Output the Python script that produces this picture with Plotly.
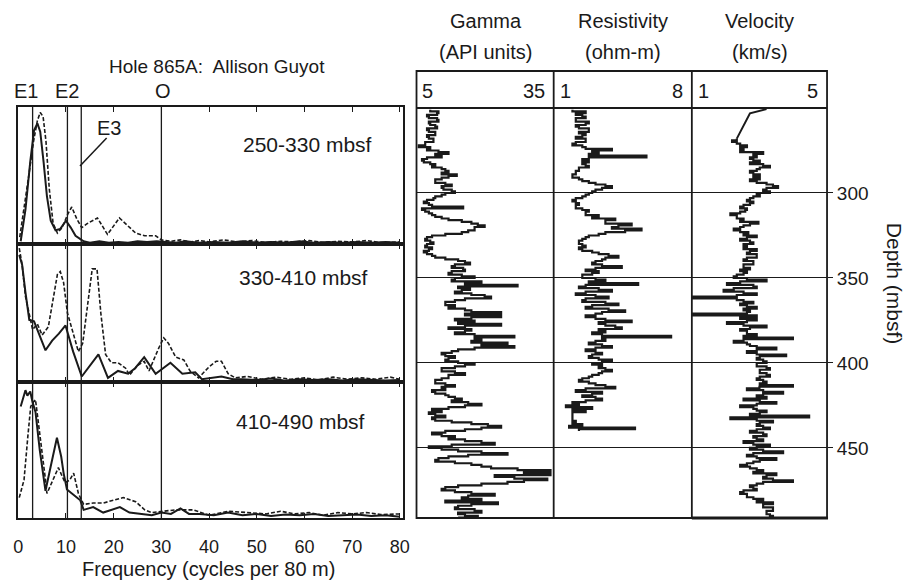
import plotly.graph_objects as go

W, H = 912, 582
def PX(px): return px / W
def PY(py): return 1 - py / H

# ---------------- Spectral panels (frequency, relative power) ----------------
freq_labels = ["250-330 mbsf", "330-410 mbsf", "410-490 mbsf"]
ref_lines = [3.0, 10.3, 13.2, 30.0]  # E1, E2, E3, O
freq_ticks = [0, 10, 20, 30, 40, 50, 60, 70, 80]

p1_solid_f = [0.5, 1.5, 2.5, 3.3, 4.0, 4.6, 5.3, 6.0, 6.8, 7.8, 8.8, 10.0, 11.0, 12.0, 13.7, 15, 17, 19, 21, 23, 25, 27, 29, 31, 33, 35, 38, 41, 44, 47, 50, 53, 56, 59, 62, 65, 68, 71, 74, 77, 80]
p1_solid_v = [0.02, 0.25, 0.6, 0.83, 0.88, 0.82, 0.6, 0.35, 0.17, 0.1, 0.11, 0.17, 0.12, 0.06, 0.02, 0.01, 0.02, 0.01, 0.015, 0.01, 0.02, 0.015, 0.02, 0.015, 0.01, 0.02, 0.01, 0.015, 0.01, 0.02, 0.01, 0.015, 0.01, 0.02, 0.01, 0.015, 0.01, 0.015, 0.01, 0.015, 0.01]
p1_dash_f = [0.3, 1.2, 2.2, 3.2, 4.0, 4.6, 5.2, 5.8, 6.5, 7.3, 8.2, 9.2, 10.4, 11.2, 12.3, 13.3, 14.5, 16.6, 18.7, 21.2, 23, 24.6, 26.5, 28.8, 30, 32, 34, 36, 38, 40, 43, 46, 49, 52, 55, 58, 61, 64, 67, 70, 73, 76, 80]
p1_dash_v = [0.05, 0.25, 0.5, 0.75, 0.9, 0.96, 0.93, 0.75, 0.4, 0.15, 0.08, 0.12, 0.22, 0.27, 0.18, 0.12, 0.15, 0.19, 0.07, 0.19, 0.13, 0.08, 0.06, 0.06, 0.03, 0.02, 0.03, 0.015, 0.025, 0.015, 0.03, 0.015, 0.025, 0.01, 0.02, 0.015, 0.025, 0.01, 0.02, 0.015, 0.025, 0.01, 0.015]

p2_solid_f = [0.2, 0.8, 1.5, 2.3, 3.3, 4.5, 5.7, 7.1, 8.5, 9.9, 11.5, 13.3, 15.0, 16.8, 18.8, 20.9, 23, 24.5, 26.4, 28.8, 31.9, 34.4, 37.1, 38.5, 42.6, 45, 47, 50, 53, 56, 59, 62, 65, 68, 71, 74, 77, 80]
p2_solid_v = [0.92, 0.85, 0.65, 0.45, 0.44, 0.33, 0.23, 0.3, 0.35, 0.41, 0.22, 0.04, 0.12, 0.2, 0.03, 0.08, 0.06, 0.1, 0.18, 0.06, 0.14, 0.06, 0.07, 0.02, 0.04, 0.02, 0.02, 0.015, 0.025, 0.01, 0.02, 0.015, 0.02, 0.01, 0.02, 0.015, 0.01, 0.015]
p2_dash_f = [0.2, 0.8, 1.5, 2.3, 3.0, 4.0, 5.0, 6.3, 7.3, 8.2, 8.8, 9.5, 10.3, 11.5, 12.6, 13.5, 14.6, 15.5, 16.5, 17.3, 18.3, 19.5, 20.9, 22.5, 23.3, 25, 26.4, 27.4, 29.5, 30.5, 31.5, 33, 34.7, 36, 37.8, 40, 41.5, 42.6, 44.0, 45.5, 48, 51, 54, 57, 60, 63, 66, 69, 72, 75, 78, 80]
p2_dash_v = [0.97, 0.85, 0.62, 0.48, 0.38, 0.42, 0.34, 0.4, 0.6, 0.78, 0.8, 0.72, 0.5, 0.35, 0.22, 0.28, 0.6, 0.82, 0.82, 0.5, 0.2, 0.14, 0.14, 0.1, 0.05, 0.12, 0.15, 0.08, 0.25, 0.32, 0.28, 0.18, 0.16, 0.08, 0.03, 0.11, 0.15, 0.15, 0.06, 0.03, 0.04, 0.02, 0.035, 0.02, 0.03, 0.015, 0.035, 0.02, 0.03, 0.02, 0.035, 0.02]

p3_solid_f = [0.5, 1.5, 1.9, 2.5, 3.0, 3.6, 4.5, 5.7, 6.8, 8.1, 9.0, 9.5, 10.2, 11.5, 13.0, 13.7, 15.7, 17.8, 19.5, 21.3, 23.3, 26, 28, 30, 32, 34, 35.8, 38, 41, 44, 47, 50, 53, 56, 59, 62, 65, 68, 71, 74, 77, 80]
p3_solid_v = [0.82, 0.94, 0.9, 0.93, 0.85, 0.78, 0.5, 0.2, 0.38, 0.59, 0.45, 0.33, 0.21, 0.17, 0.13, 0.06, 0.08, 0.04, 0.06, 0.08, 0.04, 0.03, 0.02, 0.04, 0.03, 0.07, 0.03, 0.03, 0.02, 0.04, 0.02, 0.03, 0.015, 0.025, 0.02, 0.03, 0.015, 0.02, 0.025, 0.015, 0.02, 0.01]
p3_dash_f = [0.2, 1.2, 2.0, 2.6, 3.1, 3.6, 4.0, 5.0, 5.7, 6.0, 7.2, 8.4, 9.8, 10.8, 11.6, 12.6, 13.7, 15.7, 17.8, 20, 22, 24.6, 26.5, 28, 30, 33, 36.7, 40, 44, 49.5, 52, 55, 58, 61, 64, 67, 70, 73, 76, 80]
p3_dash_v = [0.15, 0.28, 0.6, 0.82, 0.85, 0.87, 0.76, 0.5, 0.28, 0.18, 0.28, 0.37, 0.26, 0.28, 0.33, 0.18, 0.1, 0.11, 0.11, 0.13, 0.15, 0.12, 0.06, 0.04, 0.05, 0.06, 0.06, 0.02, 0.05, 0.04, 0.03, 0.05, 0.03, 0.04, 0.02, 0.04, 0.03, 0.04, 0.025, 0.03]

# ---------------- Downhole logs (1 m sampling, depth in mbsf) ----------------
gamma_depth = list(range(251, 492))
gamma_api = [
    8.0, 9.8, 9.5, 7.3, 7.7, 9.5, 9.8, 7.7, 8.0, 9.1,        # 251-260
    9.5, 7.3, 7.7, 9.1, 9.1, 7.3, 7.7, 8.7, 8.7, 6.9,        # 261-270
    6.9, 5.5, 8.0, 7.3, 9.8, 12.0, 9.1, 10.5, 7.3, 6.2,      # 271-280
    6.6, 8.0, 9.1, 8.4, 10.5, 11.3, 12.0, 10.5, 13.8, 12.0,  # 281-290
    10.5, 9.1, 9.1, 11.3, 12.7, 10.5, 10.9, 12.7, 13.4, 11.3,  # 291-300
    10.5, 9.1, 8.7, 7.3, 6.6, 7.7, 8.4, 15.2, 6.2, 6.9,      # 301-310
    7.7, 8.4, 9.1, 10.5, 12.0, 14.9, 17.0, 18.4, 19.9, 17.7,  # 311-320
    17.7, 16.3, 14.9, 11.3, 8.4, 7.3, 6.9, 8.0, 8.7, 7.3,    # 321-330
    6.9, 8.4, 7.7, 6.6, 7.3, 8.4, 9.1, 11.3, 14.1, 15.6,     # 331-340
    16.7, 13.4, 12.7, 15.2, 15.6, 12.7, 12.0, 14.9, 17.7, 13.4,  # 341-350
    12.7, 19.2, 15.6, 27.1, 14.1, 16.7, 14.9, 13.4, 17.0, 19.9,  # 351-360
    21.3, 15.6, 13.4, 11.3, 11.3, 13.4, 12.0, 15.6, 17.0, 23.5,  # 361-370
    15.6, 23.5, 17.0, 13.4, 17.7, 14.1, 23.5, 15.6, 12.0, 17.0,  # 371-380
    15.6, 13.4, 17.7, 26.4, 17.7, 19.2, 17.0, 24.9, 19.2, 26.4,  # 381-390
    17.7, 14.1, 12.7, 10.5, 11.3, 13.4, 12.0, 11.3, 14.1, 17.7,  # 391-400
    15.6, 13.4, 10.5, 10.5, 13.4, 15.6, 12.0, 12.0, 10.5, 9.1,   # 401-410
    9.1, 11.3, 13.4, 10.5, 11.3, 8.4, 9.1, 11.3, 12.0, 13.4,     # 411-420
    14.9, 12.7, 16.3, 19.2, 15.6, 12.0, 8.4, 10.5, 7.7, 9.1,     # 421-430
    11.3, 8.4, 9.1, 12.7, 17.0, 20.6, 23.5, 19.2, 15.6, 11.3,    # 431-440
    8.4, 10.5, 13.4, 12.0, 15.6, 19.2, 22.1, 12.7, 7.7, 10.5,    # 441-450
    14.1, 19.2, 24.9, 16.3, 12.0, 9.8, 9.1, 13.4, 17.0, 19.2,    # 451-460
    21.3, 27.1, 34.3, 28.5, 34.3, 22.1, 26.4, 33.6, 28.5, 24.9,  # 461-470
    19.2, 14.1, 11.3, 10.5, 13.4, 17.0, 22.1, 16.3, 14.9, 19.2,  # 471-480
    11.3, 22.8, 17.0, 14.1, 13.4, 17.7, 19.2, 14.1, 15.6, 18.4,  # 481-490
    14.1]                                                         # 491

res_depth = list(range(251, 441))
res_ohmm = [
    1.95, 2.62, 2.12, 2.45, 2.62, 2.12, 2.12, 2.78, 2.62, 2.12,  # 251-260
    2.28, 2.78, 2.78, 2.28, 2.62, 2.45, 2.12, 2.62, 2.62, 2.12,  # 261-270
    1.95, 2.45, 2.62, 3.95, 2.95, 3.28, 2.78, 5.70, 2.78, 2.45,  # 271-280
    2.78, 2.45, 2.62, 2.78, 2.28, 2.28, 2.12, 2.12, 1.95, 1.95,  # 281-290
    2.28, 2.45, 2.78, 3.12, 3.62, 3.95, 3.45, 3.12, 2.95, 2.78,  # 291-300
    2.62, 2.45, 2.12, 1.95, 2.12, 2.28, 2.12, 2.12, 2.45, 2.78,  # 301-310
    2.62, 2.62, 3.28, 2.95, 4.12, 3.62, 3.62, 4.95, 4.28, 3.95,  # 311-320
    5.45, 4.62, 3.62, 3.28, 2.78, 2.62, 2.45, 2.28, 2.28, 2.45,  # 321-330
    2.62, 2.28, 2.45, 2.95, 3.28, 3.78, 4.28, 3.62, 3.45, 3.12,  # 331-340
    2.95, 3.45, 4.45, 3.12, 2.62, 3.28, 2.95, 2.45, 2.45, 3.12,  # 341-350
    3.62, 2.78, 5.28, 2.62, 2.28, 3.28, 3.95, 2.62, 2.12, 3.12,  # 351-360
    3.78, 2.62, 2.45, 3.62, 4.28, 2.95, 2.62, 3.78, 4.62, 3.45,  # 361-370
    3.12, 2.62, 3.12, 3.62, 4.95, 3.28, 3.62, 4.12, 4.45, 3.28,  # 371-380
    3.62, 2.95, 3.45, 6.95, 3.45, 3.62, 3.12, 2.78, 3.45, 3.95,  # 381-390
    3.12, 2.62, 3.12, 3.45, 2.95, 2.78, 3.28, 3.95, 3.45, 2.95,  # 391-400
    3.45, 3.28, 3.62, 3.95, 3.45, 3.28, 2.95, 2.78, 2.45, 2.28,  # 401-410
    2.78, 3.12, 3.62, 4.12, 2.62, 2.12, 3.45, 2.95, 2.45, 3.12,  # 411-420
    3.45, 2.62, 1.95, 2.28, 1.62, 2.95, 1.95, 2.62, 1.95, 1.95,  # 421-430
    1.95, 1.95, 1.95, 2.12, 1.95, 2.45, 1.78, 5.12, 2.28, 2.28]  # 431-440

# velocity: straight segment at the top of the hole, then 1 m samples
vel_top_depth = [250.6, 253.1, 268]
vel_top_kms = [3.21, 2.72, 2.33]
vel_depth = list(range(268, 492))
vel_kms = [
    2.33, 2.19, 2.33, 2.43, 2.63, 2.43, 2.53, 2.43, 3.11, 2.82,  # 268-277
    2.92, 2.72, 2.82, 3.01, 2.72, 3.11, 3.31, 3.01, 2.92, 2.72,  # 278-287
    2.82, 3.01, 2.82, 3.01, 2.72, 2.92, 3.21, 3.40, 3.55, 3.21,  # 288-297
    3.11, 3.31, 2.92,                                             # 298-300
    3.01, 2.82, 2.72, 2.63, 2.82, 2.72, 2.53, 2.43, 2.63, 2.58,  # 301-310
    2.43, 2.14, 2.33, 2.33, 2.53, 2.43, 2.97, 2.72, 2.53, 2.43,  # 311-320
    2.24, 2.43, 2.67, 2.53, 2.92, 2.63, 2.43, 2.72, 2.82, 2.53,  # 321-330
    2.63, 2.53, 2.92, 2.72, 2.63, 2.92, 2.92, 2.63, 2.53, 2.82,  # 331-340
    2.82, 2.53, 2.53, 2.72, 2.43, 2.63, 2.53, 2.33, 2.24, 2.63,  # 341-350
    3.21, 2.43, 2.04, 2.82, 2.92, 2.24, 1.94, 2.53, 2.92, 2.33,  # 351-360
    1.0, 2.33, 2.53, 2.82, 2.43, 2.63, 2.92, 2.53, 2.72, 2.63,   # 361-370
    1.0, 2.92, 2.43, 2.92, 2.63, 2.04, 2.53, 3.21, 2.72, 2.43,   # 371-380
    2.63, 2.63, 2.92, 2.53, 3.99, 2.53, 2.24, 2.63, 2.72, 2.92,  # 381-390
    3.50, 2.92, 2.63, 2.92, 3.79, 3.01, 2.92, 3.11, 3.21, 2.92,  # 391-400
    2.92, 3.21, 3.31, 3.01, 3.01, 3.21, 3.31, 3.01, 2.92, 3.11,  # 401-410
    3.21, 3.01, 3.99, 3.00, 2.63, 3.11, 3.70, 3.11, 2.92, 3.21,  # 411-420
    2.53, 3.01, 3.50, 2.92, 2.43, 2.82, 2.92, 3.21, 3.01, 2.72,  # 421-430
    4.47, 2.14, 2.92, 3.40, 3.01, 2.92, 3.11, 3.31, 2.92, 2.72,  # 431-440
    3.11, 3.21, 2.82, 2.92, 3.11, 2.53, 2.82, 3.31, 2.92, 2.72,  # 441-450
    3.11, 3.70, 2.82, 2.63, 2.92, 3.50, 3.01, 2.82, 2.63, 2.43,  # 451-460
    2.72, 2.92, 3.11, 2.82, 3.50, 3.21, 3.11, 3.40, 3.99, 3.11,  # 461-470
    2.92, 2.72, 2.82, 2.92, 2.53, 2.43, 2.63, 2.63, 2.82, 3.11,  # 471-480
    2.92, 3.40, 3.11, 3.11, 3.40, 3.40, 3.21, 3.21, 3.31, 3.40,  # 481-490
    3.31]                                                         # 491

assert len(gamma_depth) == len(gamma_api)
assert len(res_depth) == len(res_ohmm)
assert len(vel_depth) == len(vel_kms)

depth_ticks = [300, 350, 400, 450]
log_titles = [("Gamma", "(API units)"), ("Resistivity", "(ohm-m)"), ("Velocity", "(km/s)")]
log_ranges = [(5, 35), (1, 8), (1, 5)]

FONT = "Liberation Sans"
INK = "#1a1a1a"

fig = go.Figure()

panels = [(p1_solid_f, p1_solid_v, p1_dash_f, p1_dash_v),
          (p2_solid_f, p2_solid_v, p2_dash_f, p2_dash_v),
          (p3_solid_f, p3_solid_v, p3_dash_f, p3_dash_v)]
for i, (sf, sv, df, dv) in enumerate(panels):
    xa = "x" if i == 0 else f"x{i+1}"
    ya = "y" if i == 0 else f"y{i+1}"
    fig.add_trace(go.Scatter(x=df, y=dv, xaxis=xa, yaxis=ya, mode="lines",
                             line=dict(color=INK, width=1.6, dash="4px,2px")))
    fig.add_trace(go.Scatter(x=sf, y=sv, xaxis=xa, yaxis=ya, mode="lines",
                             line=dict(color=INK, width=2.0)))

logs = [(gamma_api, gamma_depth, "x4"), (res_ohmm, res_depth, "x5"), (vel_kms, vel_depth, "x6")]
for vals, dep, xa in logs:
    fig.add_trace(go.Scatter(x=vals, y=dep, xaxis=xa, yaxis="y4", mode="lines",
                             line=dict(color=INK, width=2.2, shape="vh")))
fig.add_trace(go.Scatter(x=vel_top_kms, y=vel_top_depth, xaxis="x6", yaxis="y4",
                         mode="lines", line=dict(color=INK, width=2.0)))

sp_x0, sp_x1 = 13, 403
sp_rows = [(107, 244), (244, 382), (382, 518)]
layout = dict(width=W, height=H, margin=dict(l=0, r=0, t=0, b=0),
              paper_bgcolor="white", plot_bgcolor="white", showlegend=False,
              font=dict(family=FONT, color=INK))
for i, (top, bot) in enumerate(sp_rows):
    xn = "xaxis" if i == 0 else f"xaxis{i+1}"
    yn = "yaxis" if i == 0 else f"yaxis{i+1}"
    layout[xn] = dict(domain=[PX(sp_x0), PX(sp_x1)], range=[-0.1, 80.6],
                      anchor="y" if i == 0 else f"y{i+1}",
                      showline=True, linecolor=INK, linewidth=1.5, mirror="ticks",
                      ticks="inside", ticklen=5, tickcolor=INK, tickwidth=1.2,
                      tickvals=freq_ticks, showticklabels=(i == 2),
                      ticklabelstandoff=12,
                      tickfont=dict(size=18, family=FONT, color=INK),
                      showgrid=False, zeroline=False)
    layout[yn] = dict(domain=[PY(bot), PY(top)], range=[0, 1.0],
                      anchor="x" if i == 0 else f"x{i+1}",
                      showline=True, linecolor=INK, linewidth=1.5, mirror=True,
                      showticklabels=False, ticks="", showgrid=False, zeroline=False)
    if i > 0:
        layout[xn]["matches"] = "x"

tr_edges = [417, 556, 696, 833]
log_top, log_bot, hdr_top = 108, 518, 71
for j in range(3):
    layout[f"xaxis{j+4}"] = dict(domain=[PX(tr_edges[j]), PX(tr_edges[j+1])],
                                 range=list(log_ranges[j]), anchor="y4",
                                 showticklabels=False, ticks="", showgrid=False,
                                 zeroline=False, showline=False)
layout["yaxis4"] = dict(domain=[PY(log_bot), PY(log_top)], range=[491.2, 250],
                        anchor="x6", side="right", tickvals=depth_ticks,
                        ticks="outside", ticklen=5, tickcolor=INK, tickwidth=1.2,
                        tickfont=dict(size=19, family=FONT, color=INK),
                        showgrid=True, gridcolor=INK, gridwidth=1.2,
                        zeroline=False, showline=False)
fig.update_layout(**layout)

shapes = []
for f in ref_lines:
    shapes.append(dict(type="line", xref="x", yref="paper", x0=f, x1=f,
                       y0=PY(518), y1=PY(107), line=dict(color=INK, width=1.3)))
shapes.append(dict(type="line", xref="paper", yref="paper", x0=PX(76), y0=PY(166),
                   x1=PX(103), y1=PY(138), line=dict(color=INK, width=1.5)))
shapes.append(dict(type="rect", xref="paper", yref="paper", x0=PX(417), x1=PX(833),
                   y0=PY(log_bot), y1=PY(hdr_top), line=dict(color=INK, width=1.8)))
shapes.append(dict(type="line", xref="paper", yref="paper", x0=PX(417), x1=PX(833),
                   y0=PY(log_top), y1=PY(log_top), line=dict(color=INK, width=1.8)))
shapes.append(dict(type="line", xref="paper", yref="paper", x0=PX(696), x1=PX(834),
                   y0=PY(log_bot), y1=PY(log_bot), line=dict(color=INK, width=3)))
for xe in tr_edges[1:3]:
    shapes.append(dict(type="line", xref="paper", yref="paper", x0=PX(xe), x1=PX(xe),
                       y0=PY(log_bot), y1=PY(hdr_top), line=dict(color=INK, width=1.8)))
fig.update_layout(shapes=shapes)

ann = []
def text(t, x, y, size=18, xanchor="center", **kw):
    ann.append(dict(text=t, x=PX(x), y=PY(y), xref="paper", yref="paper",
                    showarrow=False, xanchor=xanchor, yanchor="middle",
                    font=dict(family=FONT, size=size, color=INK), **kw))

text("Hole 865A:  Allison Guyot", 215, 66, 19)
text("E1", 21, 91, 20)
text("E2", 63, 91, 20)
text("O", 160, 91, 20)
text("E3", 105, 128, 20)
for lbl, (xc, yc) in zip(freq_labels, [(307, 144), (302, 277), (299, 421)]):
    text(lbl, xc, yc, 21)
text("Frequency (cycles per 80 m)", 206, 569, 20)

centers = [487, 626, 765]
for (t1, t2), xc in zip(log_titles, centers):
    text(t1, xc, 21, 20)
    text(t2, xc, 52, 20)
for j, (lo, hi) in enumerate(log_ranges):
    text(str(lo), tr_edges[j] + 4, 91, 20, xanchor="left")
    text(str(hi), tr_edges[j+1] - 7, 91, 20, xanchor="right")
text("Depth (mbsf)", 902, 283, 21, textangle=90)
fig.update_layout(annotations=ann)

fig.write_html("out.html")
